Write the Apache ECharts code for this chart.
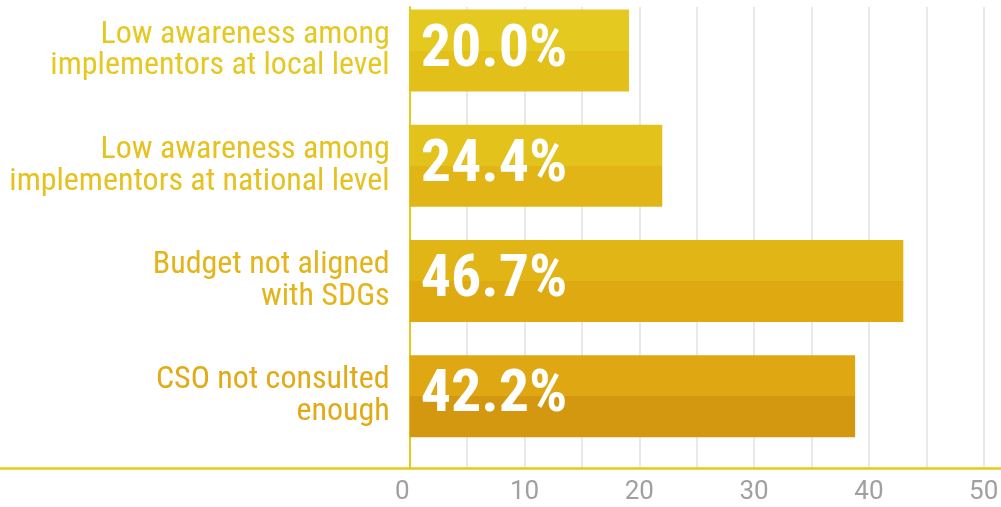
<!DOCTYPE html>
<html>
<head>
<meta charset="utf-8">
<script src="https://cdn.jsdelivr.net/npm/echarts@6/dist/echarts.min.js"></script>
<style>
html,body{margin:0;padding:0;background:#fff;}
#c{width:1001px;height:507px;}
</style>
</head>
<body>
<div id="c"></div>
<script>
const categories = [
  'Low awareness among\nimplementors at local level',
  'Low awareness among\nimplementors at national level',
  'Budget not aligned\nwith SDGs',
  'CSO not consulted\nenough'
];
const barValues = [19.1, 22.0, 43.0, 38.8];
const valueLabels = ['20.0%', '24.4%', '46.7%', '42.2%'];
const tickLabels = [0, 10, 20, 30, 40, 50];

const topColors = ['#E4C920', '#E3C21C', '#E0B515', '#DFA812'];
const bottomColors = ['#E3BF1A', '#E1B516', '#DFA912', '#D49810'];
const labelColors = ['#E6C822', '#E5C21F', '#E3B51B', '#E2AA17'];

const condensed = '"Roboto Condensed", "Liberation Sans Narrow", "Arial Narrow", "DejaVu Sans Condensed", sans-serif';

const chart = echarts.init(document.getElementById('c'), null, {renderer: 'canvas'});

const barData = barValues.map((v, i) => ({
  value: v,
  itemStyle: {
    color: new echarts.graphic.LinearGradient(0, 0, 0, 1, [
      {offset: 0, color: topColors[i]},
      {offset: 0.5, color: topColors[i]},
      {offset: 0.5, color: bottomColors[i]},
      {offset: 1, color: bottomColors[i]}
    ])
  }
}));

const catFont = 32;
const richStyles = {};
labelColors.forEach((c, i) => {
  richStyles['c' + i] = {color: c, fontSize: catFont, fontWeight: 'normal', lineHeight: 31.5, fontFamily: condensed};
});

const option = {
  animation: false,
  backgroundColor: '#ffffff',
  grid: [
    {left: 409.7, right: 17.3, top: 7, bottom: 38.5, containLabel: false, outerBoundsMode: 'none'},
    {left: 409.7, right: 17.3, top: -7, bottom: 53.2, containLabel: false, outerBoundsMode: 'none'},
    {left: 0, right: 0, top: 7, bottom: 38.5, containLabel: false, outerBoundsMode: 'none'}
  ],
  xAxis: [
    {
      gridIndex: 0, type: 'value', min: 0, max: 50, interval: 5,
      axisLine: {show: false}, axisTick: {show: false},
      splitLine: {show: true, lineStyle: {color: '#E2E2E2', width: 1.5}},
      axisLabel: {
        show: true, margin: 11, color: '#A0A0A0', fontSize: 26,
        fontFamily: 'Roboto, sans-serif', alignMinLabel: 'right',
        formatter: v => (tickLabels.indexOf(v) >= 0 ? String(v) : '')
      }
    },
    {
      gridIndex: 1, type: 'value', min: 0, max: 50, interval: 5,
      show: false
    },
    {
      gridIndex: 2, type: 'value', min: 0, max: 1,
      axisLine: {show: true, lineStyle: {color: '#E5C820', width: 2.5}},
      axisTick: {show: false}, axisLabel: {show: false}, splitLine: {show: false}
    }
  ],
  yAxis: [
    {
      gridIndex: 0, type: 'category', data: categories, inverse: true,
      axisLine: {show: true, lineStyle: {color: '#E5C820', width: 2}},
      axisTick: {show: false}, axisLabel: {show: false}, splitLine: {show: false}
    },
    {
      gridIndex: 1, type: 'category', data: categories, inverse: true,
      axisLine: {show: false}, axisTick: {show: false}, splitLine: {show: false},
      axisLabel: {
        show: true, margin: 20, fontSize: catFont, lineHeight: 31.5,
        fontFamily: condensed, align: 'right',
        formatter: (v, i) => '{c' + i + '|' + v.split('\n').join('}\n{c' + i + '|') + '}',
        rich: richStyles
      }
    },
    {
      gridIndex: 2, type: 'category', data: categories, show: false
    }
  ],
  series: [
    {
      type: 'bar', xAxisIndex: 1, yAxisIndex: 1,
      data: barData, barWidth: 82,
      z: 3,
      label: {
        show: true, position: 'insideLeft', distance: 11,
        color: '#ffffff', fontSize: 60, fontWeight: 'bold',
        fontFamily: condensed,
        formatter: p => valueLabels[p.dataIndex]
      }
    }
  ]
};
chart.setOption(option);
</script>
</body>
</html>
